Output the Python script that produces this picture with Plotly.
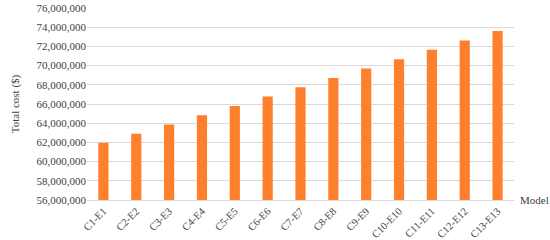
import plotly.graph_objects as go

models = ['C1-E1', 'C2-E2', 'C3-E3', 'C4-E4', 'C5-E5', 'C6-E6', 'C7-E7',
          'C8-E8', 'C9-E9', 'C10-E10', 'C11-E11', 'C12-E12', 'C13-E13']
total_cost = [61970000, 62900000, 63870000, 64840000, 65800000, 66780000, 67750000,
              68720000, 69700000, 70660000, 71640000, 72620000, 73600000]
y_ticks = list(range(56000000, 76000001, 2000000))

fig = go.Figure()
fig.add_trace(go.Bar(x=models, y=total_cost, marker_color='#FE7F2C',
                     marker_line_width=0))

font = dict(family='Liberation Serif', size=11, color='#404040')
fig.update_layout(
    width=550, height=240,
    margin=dict(l=87, r=36, t=8, b=40),
    plot_bgcolor='white', paper_bgcolor='white',
    bargap=0.69, showlegend=False, font=font,
)
fig.update_yaxes(range=[56000000, 76000000], tickvals=y_ticks, automargin=False,
                 tickformat=',d', showgrid=True, gridcolor='#D9D9D9',
                 gridwidth=1, zeroline=False, showline=False, ticks='',
                 title=dict(text='Total cost ($)', standoff=14,
                            font=dict(family='Liberation Serif', size=11, color='#404040')))
fig.update_xaxes(tickangle=-45, showline=True, linecolor='#D9D9D9', ticks='',
                 automargin=False,
                 tickfont=dict(family='Liberation Serif', size=10.5, color='#404040'))
fig.add_annotation(text='Model', xref='paper', yref='y', x=1.0, xshift=4, y=56000000,
                   xanchor='left', yanchor='middle', showarrow=False,
                   font=dict(family='Liberation Serif', size=11, color='#404040'))

# drop the default 8px page margin so the figure sits at the window corner
fig.write_html('out.html', config={'displayModeBar': False},
               post_script="document.body.style.margin='0';")
